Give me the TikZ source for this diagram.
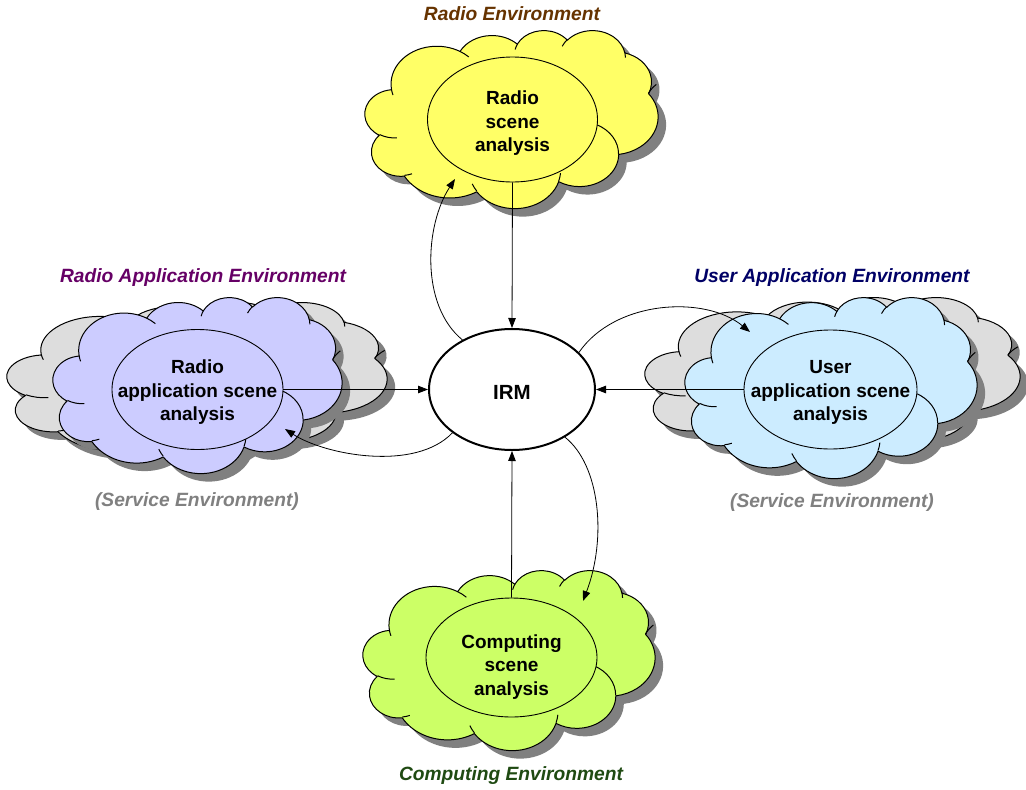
\documentclass[tikz,border=0pt]{standalone}
\usepackage{fontspec}
\setmainfont{Liberation Sans}
\usetikzlibrary{arrows.meta,shapes.geometric}

\definecolor{radiofill}{HTML}{FFFF66}
\definecolor{rappfill}{HTML}{CCCCFF}
\definecolor{uappfill}{HTML}{CCECFF}
\definecolor{compfill}{HTML}{CCFF66}
\definecolor{backfill}{HTML}{DDDDDD}
\definecolor{shadowgray}{HTML}{808080}
\definecolor{radiotxt}{HTML}{663300}
\definecolor{rapptxt}{HTML}{660066}
\definecolor{uapptxt}{HTML}{000066}
\definecolor{comptxt}{HTML}{1F4A12}
\definecolor{servtxt}{HTML}{808080}

% Cloud outline in a 432 x 432 box (y pointing down), eleven elliptic puffs
\newcommand\cloudoutline{%
(39.00,143.70)
arc[start angle=-187.75,end angle=-59.63,x radius=67.53,y radius=91.90]
arc[start angle=-152.02,end angle=-45.45,x radius=53.33,y radius=72.67]
arc[start angle=-153.49,end angle=-37.33,x radius=43.65,y radius=59.45]
arc[start angle=-139.72,end angle=-10.22,x radius=48.57,y radius=65.95]
arc[start angle=-74.77,end angle=23.21,x radius=53.33,y radius=72.73]
arc[start angle=-37.52,end angle=81.86,x radius=67.75,y radius=92.20]
arc[start angle=0.46,end angle=121.98,x radius=57.85,y radius=78.67]
arc[start angle=16.85,end angle=146.22,x radius=67.52,y radius=92.15]
arc[start angle=58.98,end angle=150.20,x radius=77.20,y radius=105.43]
arc[start angle=83.31,end angle=223.12,x radius=43.60,y radius=59.18]
arc[start angle=120.36,end angle=264.11,x radius=43.45,y radius=59.45]
-- cycle}

% Short creases where the puffs overlap
\newcommand\cloudcreases{%
(46.93,261.77) arc[start angle=85.54,end angle=120.36,x radius=43.45,y radius=59.45]
(69.28,348.99) arc[start angle=68.24,end angle=83.31,x radius=43.60,y radius=59.18]
(164.78,390.90) arc[start angle=146.22,end angle=158.47,x radius=67.52,y radius=92.15]
(288.27,347.51) arc[start angle=4.74,end angle=16.85,x radius=67.52,y radius=92.15]
(341.29,229.54) arc[start angle=-64.03,end angle=0.46,x radius=57.85,y radius=78.67]
(417.98,153.54) arc[start angle=-154.28,end angle=-133.25,x radius=53.33,y radius=72.73]
(383.24,54.26) arc[start angle=-10.22,end angle=0.82,x radius=48.57,y radius=65.95]
(290.78,39.52) arc[start angle=-156.29,end angle=-139.72,x radius=48.57,y radius=65.95]
(221.41,47.20) arc[start angle=-167.72,end angle=-153.49,x radius=43.65,y radius=59.45]
(140.00,51.92) arc[start angle=-59.63,end angle=-45.73,x radius=67.53,y radius=91.90]
(41.27,157.89) arc[start angle=163.19,end angle=172.25,x radius=67.53,y radius=91.90]}

% #1,#2 top-left corner, #3 width, #4 height, #5 fill colour
\newcommand\drawcloud[5]{%
  \begin{scope}[shift={(#1+8,#2+8)}, xscale={#3/432}, yscale={#4/432}]
    \fill[shadowgray] \cloudoutline;
  \end{scope}
  \begin{scope}[shift={(#1,#2)}, xscale={#3/432}, yscale={#4/432}]
    \filldraw[fill=#5, cloudline] \cloudoutline;
    \draw[cloudline] \cloudcreases;
  \end{scope}}

\tikzset{
  cloudline/.style={draw=black, line width=1pt, line join=round},
  scene/.style={ellipse, draw=black, line width=0.9pt, inner sep=0pt},
  scenetext/.style={align=center, inner sep=0pt,
    font=\fontsize{19}{23.5}\selectfont\bfseries},
  envlabel/.style={inner sep=0pt, font=\fontsize{19.2}{23}\selectfont\bfseries\itshape},
  flow/.style={line width=0.8pt, -{Triangle[length=10pt,width=7.5pt]}},
}

\begin{document}
\begin{tikzpicture}[x=1pt, y=1pt, yscale=-1]
\useasboundingbox (0,0) rectangle (1026,790);
\fill[white] (0,0) rectangle (1026,790);

% clouds
\drawcloud{365}{30}{293}{178}{radiofill}
\drawcloud{7}{302}{380}{158}{backfill}
\drawcloud{53}{297}{289}{176}{rappfill}
\drawcloud{645}{297}{375}{163}{backfill}
\drawcloud{685}{297}{292}{181}{uappfill}
\drawcloud{363}{570}{292}{180}{compfill}

% scene analysis ellipses
\node[scene, fill=radiofill, minimum width=170pt, minimum height=125pt] (radio) at (512.5,119.5) {};
\node[scene, fill=rappfill, minimum width=171pt, minimum height=120pt] (radioapp) at (197.5,389.5) {};
\node[scene, fill=uappfill, minimum width=173pt, minimum height=119pt] (userapp) at (830.5,389.5) {};
\node[scene, fill=compfill, minimum width=171pt, minimum height=119pt] (comp) at (511.5,657.5) {};

\node[scenetext] (radiotext) at (512.5,123.5) {Radio\\scene\\analysis};
\node[scenetext] (radioapptext) at (197.5,392.5) {Radio\\application scene\\analysis};
\node[scenetext] (userapptext) at (830.5,392.5) {User\\application scene\\analysis};
\node[scenetext] (comptext) at (511.5,667) {Computing\\scene\\analysis};

% central manager
\node[ellipse, draw=black, line width=2pt, fill=white, minimum width=166pt,
  minimum height=121pt, text height=20.7pt, text depth=0pt,
  font=\fontsize{20.5}{24}\selectfont\bfseries] (irm) at (512,389.5) {IRM};

% environment captions
\node[envlabel, text=radiotxt] (radioenv) at (512,14) {Radio Environment};
\node[envlabel, text=rapptxt] (rappenv) at (203,278) {Radio Application Environment};
\node[envlabel, text=servtxt] (rappserv) at (197,502) {(Service Environment)};
\node[envlabel, text=uapptxt] (uappenv) at (832,278) {User Application Environment};
\node[envlabel, text=servtxt] (uappserv) at (832,503) {(Service Environment)};
\node[envlabel, text=comptxt] (compenv) at (511,776) {Computing Environment};

% arrow ends inside the clouds
\coordinate (radiotip) at (455,179);
\coordinate (rapptip) at (285,429);
\coordinate (uapptip) at (750,332);
\coordinate (comptip) at (583,601);

% reports flowing into the manager
\draw[flow] (radio.south) -- (irm.north);
\draw[flow] (radioapp.east) -- (irm.west);
\draw[flow] (userapp.west) -- (irm.east);
\draw[flow] (comp.north) -- (irm.south);

% feedback from the manager
\draw[flow] (irm.135) .. controls (420,305) and (425,225) .. (radiotip);
\draw[flow] (irm.216) .. controls (415,472) and (325,455) .. (rapptip);
\draw[flow] (irm.29) .. controls (615,300) and (705,295) .. (uapptip);
\draw[flow] (irm.-42.5) .. controls (600,465) and (607,538) .. (comptip);
\end{tikzpicture}
\end{document}
